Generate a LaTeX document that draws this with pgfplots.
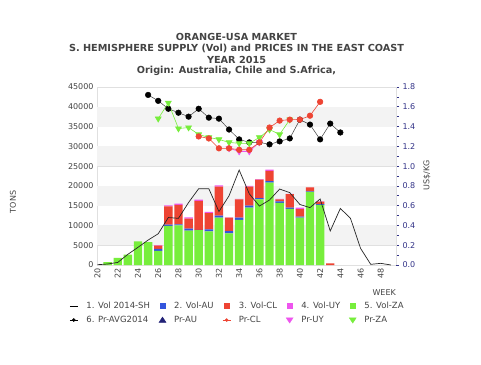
\documentclass[border=0pt]{standalone}
\usepackage{fontspec}
\setmainfont{DejaVu Sans}
\usepackage{pgfplots}
\usepackage{pgfplotstable}
\pgfplotsset{compat=1.18}

\definecolor{za}{HTML}{77EE3C}
\definecolor{cl}{HTML}{EE4433}
\definecolor{au}{HTML}{3355DD}
\definecolor{uy}{HTML}{EE55EE}
\definecolor{band}{HTML}{F3F3F3}
\definecolor{gridc}{HTML}{E0E0E0}
\definecolor{txt}{HTML}{444444}
\definecolor{navyl}{HTML}{333388}
\definecolor{navyd}{HTML}{222277}

\pgfplotstableread{
week ZA AU CL UY
21 700 0 0 0
22 1800 0 0 0
23 2600 0 0 0
24 6000 0 0 0
25 5800 0 0 0
26 3600 500 800 100
27 9900 300 4600 300
28 10000 300 4900 300
29 8700 500 2500 350
30 8800 100 7300 300
31 8500 500 4100 350
32 12000 500 7300 350
33 8000 550 3400 100
34 11400 600 4600 100
35 14500 500 4800 200
36 16600 300 4700 100
37 20800 400 2600 300
38 15700 400 500 100
39 14200 300 3400 100
40 12000 200 1900 400
41 18500 100 1000 50
42 15200 200 600 100
43 0 0 400 0
}\voltab

\pgfplotstableread{
week vol
20 80
21 250
22 650
23 2700
24 4470
25 6300
26 7900
27 12000
28 11800
29 15800
30 19300
31 19300
32 13500
33 17500
34 24000
35 18000
36 14900
37 16430
38 19200
39 18300
40 15300
41 14500
42 16700
43 8600
44 14300
45 11800
46 4200
47 170
48 420
49 0
}\volline

\pgfplotsset{
  base/.style={at={(97pt,99pt)}, anchor=south west, scale only axis,
    width=299pt, height=178pt, xmin=19.95, xmax=49.5},
  tl/.style={font=\fontsize{8}{9}\selectfont},
}

\begin{document}
\begin{tikzpicture}
\useasboundingbox (0,0) rectangle (481pt,364pt);
\fill[white] (0,0) rectangle (481pt,364pt);

% titles
\begin{scope}[every node/.style={font=\bfseries\fontsize{9.7}{11}\selectfont, text=txt, inner sep=0pt}]
\node at (236.5pt,327.5pt) {ORANGE-USA MARKET};
\node at (236.5pt,315.5pt) {S. HEMISPHERE SUPPLY (Vol) and PRICES IN THE EAST COAST};
\node at (236.5pt,304pt) {YEAR 2015};
\node at (236.5pt,293pt) {Origin: Australia, Chile and S.Africa,};
\end{scope}

% background bands, grid, left and bottom labels
\begin{axis}[base, ymin=0, ymax=45000,
  ytick={0,5000,...,45000}, xtick={20,22,...,48},
  ymajorgrids, grid style={gridc, line width=0.5pt},
  major tick length=0pt,
  axis line style={draw=gridc, line width=0.5pt},
  scaled y ticks=false,
  /pgf/number format/assume math mode=true,
  yticklabel style={tl, text=txt, /pgf/number format/1000 sep={}},
  xticklabel style={tl, text=txt, rotate=90, anchor=east},
  ]
  \fill[band] (axis cs:19,5000) rectangle (axis cs:50,10000);
  \fill[band] (axis cs:19,15000) rectangle (axis cs:50,20000);
  \fill[band] (axis cs:19,25000) rectangle (axis cs:50,30000);
  \fill[band] (axis cs:19,35000) rectangle (axis cs:50,40000);
  \draw[gridc, line width=0.5pt] (axis cs:19.95,5000) -- (axis cs:49.5,5000);
\end{axis}

% stacked bars
\begin{axis}[base, ymin=0, ymax=45000, hide axis,
  ybar stacked, bar width=8.4pt]
  \addplot[fill=za, draw=none] table[x=week, y=ZA] {\voltab};
  \addplot[fill=au, draw=none] table[x=week, y=AU] {\voltab};
  \addplot[fill=cl, draw=none] table[x=week, y=CL] {\voltab};
  \addplot[fill=uy, draw=none] table[x=week, y=UY] {\voltab};
\end{axis}

% volume 2014 line
\begin{axis}[base, ymin=0, ymax=45000, hide axis]
  \addplot[black!85, line width=0.7pt, sharp plot] table[x=week, y=vol] {\volline};
\end{axis}

% prices
\begin{axis}[base, ymin=0, ymax=1.8,
  axis y line*=right, axis x line=none,
  y axis line style={draw=gridc},
  ytick={0,0.2,0.4,0.6,0.8,1.0,1.2,1.4,1.6,1.8},
  minor y tick num=1, tick align=outside,
  major tick length=3pt, minor tick length=2.5pt,
  every tick/.style={navyl, line width=0.6pt},
  /pgf/number format/assume math mode=true,
  yticklabel style={tl, text=navyl, /pgf/number format/.cd, fixed, fixed zerofill, precision=1},
  legend columns=5,
  legend style={at={(axis description cs:0,0)}, anchor=north west,
    xshift=-31pt, yshift=-33pt, draw=none, fill=none,
    font=\fontsize{8.5}{10}\selectfont, text=txt,
    /tikz/every odd column/.append style={column sep=6pt},
    /tikz/every even column/.append style={column sep=6.8pt},
    row sep=2pt},
  legend cell align=left,
  ]
  \addplot[black!75, line width=0.5pt, mark=*, mark size=2.8pt,
    mark options={fill=black, draw=black}, forget plot] coordinates {
    (25,1.72) (26,1.66) (27,1.58) (28,1.54) (29,1.50) (30,1.58) (31,1.49)
    (32,1.48) (33,1.37) (34,1.27) (35,1.24) (36,1.24) (37,1.22) (38,1.25)
    (39,1.28) (40,1.47) (41,1.42) (42,1.27) (43,1.43) (44,1.34)};
  \addplot[uy, line width=0.6pt, mark=triangle*, mark size=3.4pt,
    mark options={rotate=180, fill=uy, draw=uy}, forget plot] coordinates {
    (33,1.18) (34,1.148) (35,1.148) (36,1.24)};
  \addplot[za, line width=0.6pt, mark=triangle*, mark size=3.4pt,
    mark options={rotate=180, fill=za, draw=za}, forget plot] coordinates {
    (26,1.48) (27,1.64) (28,1.38) (29,1.39) (30,1.32) (31,1.29) (32,1.27)
    (33,1.24) (34,1.23) (35,1.23) (36,1.29) (37,1.37) (38,1.32) (39,1.47)};
  \addplot[cl, line width=0.6pt, mark=*, mark size=2.8pt,
    mark options={fill=cl, draw=cl}, forget plot] coordinates {
    (30,1.30) (31,1.28) (32,1.18) (33,1.18) (34,1.165) (35,1.165) (36,1.24)
    (37,1.39) (38,1.46) (39,1.47) (40,1.47) (41,1.51) (42,1.65)};

  \addlegendimage{legend image code/.code={\draw[black, line width=1.2pt] (0pt,0pt) -- (8pt,0pt);}}
  \addlegendentry{1. Vol 2014-SH}
  \addlegendimage{legend image code/.code={\fill[au] (1.5pt,-2.5pt) rectangle (6.5pt,2.5pt);}}
  \addlegendentry{2. Vol-AU}
  \addlegendimage{legend image code/.code={\fill[cl] (1.5pt,-2.5pt) rectangle (6.5pt,2.5pt);}}
  \addlegendentry{3. Vol-CL}
  \addlegendimage{legend image code/.code={\fill[uy] (1.5pt,-2.5pt) rectangle (6.5pt,2.5pt);}}
  \addlegendentry{4. Vol-UY}
  \addlegendimage{legend image code/.code={\fill[za] (1.5pt,-2.5pt) rectangle (6.5pt,2.5pt);}}
  \addlegendentry{5. Vol-ZA}
  \addlegendimage{legend image code/.code={\draw[black, line width=0.8pt] (0pt,0pt) -- (8pt,0pt); \fill[black] (4pt,0pt) circle (1.6pt);}}
  \addlegendentry{6. Pr-AVG2014}
  \addlegendimage{legend image code/.code={\fill[navyd] (0.5pt,-2.3pt) -- (7.5pt,-2.3pt) -- (4pt,3pt) -- cycle;}}
  \addlegendentry{Pr-AU}
  \addlegendimage{legend image code/.code={\draw[cl, line width=0.6pt] (0pt,0pt) -- (8pt,0pt); \fill[cl] (4pt,0pt) circle (1.5pt);}}
  \addlegendentry{Pr-CL}
  \addlegendimage{legend image code/.code={\fill[uy] (0.5pt,2.3pt) -- (7.5pt,2.3pt) -- (4pt,-3pt) -- cycle;}}
  \addlegendentry{Pr-UY}
  \addlegendimage{legend image code/.code={\fill[za] (0.5pt,2.3pt) -- (7.5pt,2.3pt) -- (4pt,-3pt) -- cycle;}}
  \addlegendentry{Pr-ZA}
\end{axis}

\node[rotate=90, font=\fontsize{8}{9}\selectfont, text=txt] at (13pt,162pt) {TONS};
\node[rotate=90, font=\fontsize{8}{9}\selectfont, text=txt] at (427pt,189pt) {US\$/KG};
\node[anchor=east, font=\fontsize{8}{9}\selectfont, text=txt, inner sep=0pt] at (396pt,71.5pt) {WEEK};
\end{tikzpicture}
\end{document}
